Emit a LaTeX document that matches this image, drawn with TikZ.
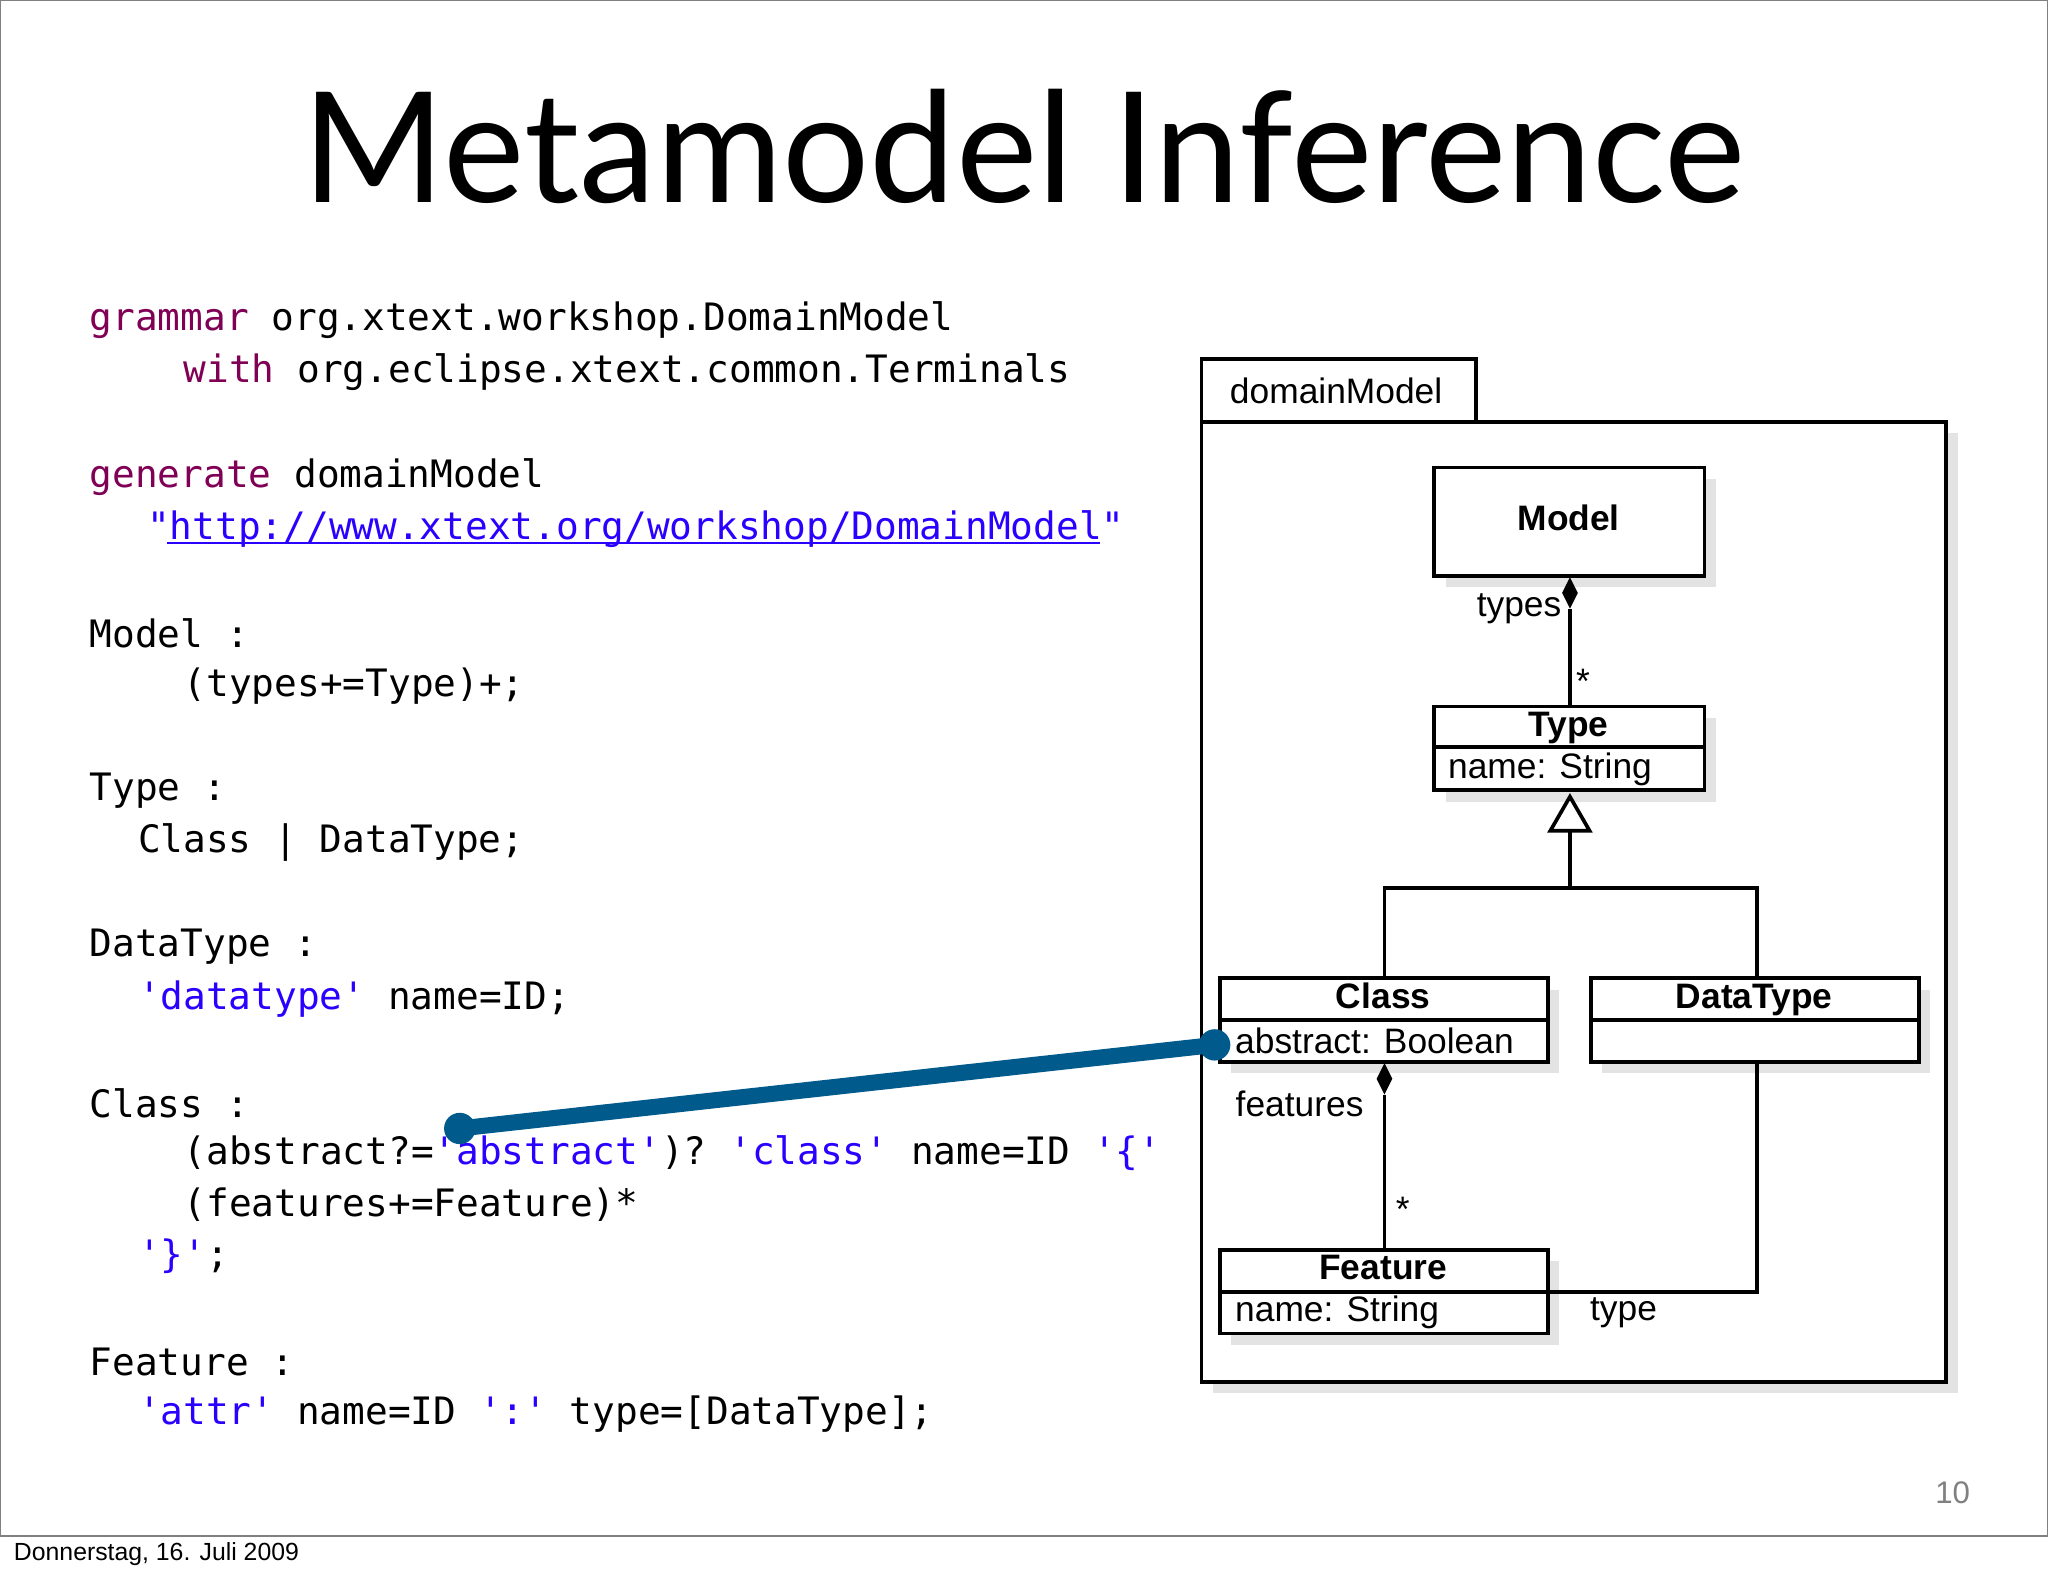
\documentclass[tikz,border=0pt]{standalone}
\usepackage{fontspec}
\setmainfont{Liberation Sans}
\setmonofont{DejaVu Sans Mono}
\newfontfamily\titlefont{Lato}
\usetikzlibrary{shadows}
\definecolor{kw}{HTML}{7F0055}
\definecolor{str}{HTML}{2A00FF}
\definecolor{conn}{HTML}{005A8C}
\begin{document}
\begin{tikzpicture}[x=0.01cm,y=-0.01cm,
  code/.style={anchor=west,inner sep=0,font=\ttfamily\fontsize{8.22}{10}\selectfont},
  box/.style={draw,line width=0.8pt,fill=white,drop shadow={shadow xshift=2.5pt,shadow yshift=-2.5pt,opacity=0.22}},
  lbl/.style={font=\fontsize{7.7}{9}\selectfont,inner sep=0},
  blbl/.style={font=\bfseries\fontsize{7.7}{9}\selectfont,inner sep=0,text height=1.9mm,text depth=0.5mm},
  ln/.style={line width=0.8pt}]
\useasboundingbox (0,0) rectangle (1568,1207);
\draw[line width=0.6pt,gray] (0,0) rectangle (1568,1176);
\node[font=\fontsize{5.4}{7}\selectfont,anchor=west,inner sep=0] (date) at (10,1190) {Donnerstag, 16. Juli 2009};
\node[font=\fontsize{6.8}{8}\selectfont,text=gray,inner sep=0] (pg) at (1495,1143) {10};
\node[font=\titlefont\fontsize{33.5}{40}\selectfont,inner sep=0] (title) at (784,112) {Metamodel Inference};
% code
\node[code] (c1) at (68,245) {\textcolor{kw}{grammar} org.xtext.workshop.DomainModel};
\node[code] (c2) at (140,285) {\textcolor{kw}{with} org.eclipse.xtext.common.Terminals};
\node[code] (c3) at (68,365) {\textcolor{kw}{generate} domainModel};
\node[code] (c4) at (112,405) {\textcolor{str}{"}\textcolor{str}{http://www.xtext.org/workshop/DomainModel}\textcolor{str}{"}};
\coordinate (u1) at (128,416); \coordinate (u2) at (842,416);
\draw[str,line width=0.5pt] (u1)--(u2);
\node[code] (c5) at (68,485) {Model :};
\node[code] (c6) at (140,525) {(types+=Type)+;};
\node[code] (c7) at (68,605) {Type :};
\node[code] (c8) at (105,645) {Class | DataType;};
\node[code] (c9) at (68,725) {DataType :};
\node[code] (c10) at (105,765) {\textcolor{str}{'datatype'} name=ID;};
\node[code] (c11) at (68,845) {Class :};
\node[code] (c12) at (140,883) {(abstract?=\textcolor{str}{'abstract'})? \textcolor{str}{'class'} name=ID \textcolor{str}{'\{'}};
\node[code] (c13) at (140,922) {(features+=Feature)*};
\node[code] (c14) at (105,962) {\textcolor{str}{'\}'};};
\node[code] (c15) at (68,1043) {Feature :};
\node[code] (c16) at (105,1083) {\textcolor{str}{'attr'} name=ID \textcolor{str}{':'} type=[DataType];};
% package
\draw[box] (920,323) rectangle (1490,1058);
\draw[ln,fill=white] (920,323) rectangle (1130,275);
\node[lbl,anchor=west] (pkg) at (941,299) {domainModel};
% classes
\draw[box] (1098,358) rectangle (1305,441);
\node[blbl] (model) at (1201,399) {Model};
\draw[box] (1098,541) rectangle (1305,605); \draw[ln] (1098,572)--(1305,572);
\node[blbl] (type) at (1201,557) {Type};
\node[lbl,anchor=west] (typea) at (1108,589) {name: String};
\draw[box] (934,749) rectangle (1185,813); \draw[ln] (934,781)--(1185,781);
\node[blbl] (cls) at (1059,765) {Class};
\node[lbl,anchor=west] (clsa) at (945,797) {abstract: Boolean};
\draw[box] (1218,749) rectangle (1469,813); \draw[ln] (1218,781)--(1469,781);
\node[blbl] (dt) at (1343,765) {DataType};
\draw[box] (934,957) rectangle (1185,1021); \draw[ln] (934,989)--(1185,989);
\node[blbl] (feat) at (1059,973) {Feature};
\node[lbl,anchor=west] (feata) at (945,1005) {name: String};
% associations
\draw[ln] (1202,466)--(1202,541);
\fill (1202,442)--(1208,454)--(1202,466)--(1196,454)--cycle;
\node[lbl] (l1) at (1163,466) {types};
\node[lbl] (l2) at (1212,522) {*};
\draw[ln] (1202,636)--(1202,680) (1060,749)--(1060,680)--(1345,680)--(1345,749);
\draw[ln,fill=white] (1202,610)--(1217,636)--(1187,636)--cycle;
\draw[ln] (1060,838)--(1060,957);
\fill (1060,814)--(1066,826)--(1060,838)--(1054,826)--cycle;
\node[lbl] (l3) at (995,845) {features};
\node[lbl] (l4) at (1074,926) {*};
\draw[ln] (1185,989)--(1345,989)--(1345,813);
\node[lbl] (l5) at (1243,1005) {type};
% blue connector
\coordinate (pa) at (352,864);
\coordinate (pb) at (930,800);
\draw[conn,line width=3.5pt] (pa)--(pb);
\fill[conn] (pa) circle (12); \fill[conn] (pb) circle (12);
\end{tikzpicture}
\end{document}
